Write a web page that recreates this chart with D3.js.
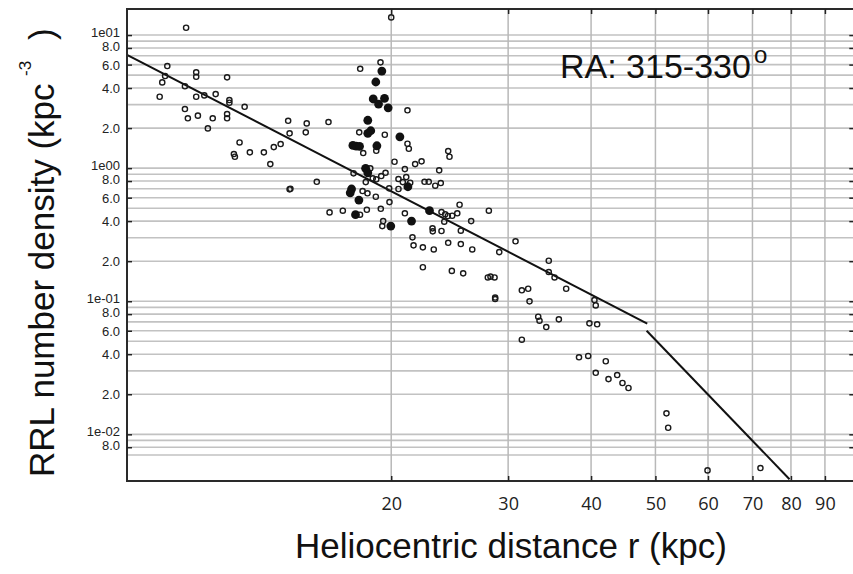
<!DOCTYPE html>
<html>
<head>
<meta charset="utf-8">
<script src="https://cdn.jsdelivr.net/npm/d3@7"></script>
<style>
  body { margin: 0; background: #fff; }
  svg { display: block; }
</style>
</head>
<body>
<svg id="chart" width="853" height="574"></svg>
<script>
// open circles: heliocentric distance (kpc) and number density (kpc^-3)
var openDistance = [
  9.82, 9.20, 9.13, 9.04, 8.96, 9.78, 10.17, 10.17, 11.32, 9.78,
  9.88, 10.17, 10.23, 10.46, 10.88, 10.77, 10.59, 11.41, 11.41, 11.32,
  11.32, 12.03, 11.82, 11.59, 11.63, 12.25, 12.86, 13.15, 13.31, 13.63,
  13.99, 14.06, 14.06, 14.10, 20.0, 19.27, 17.96, 21.16, 14.92, 14.87,
  16.09, 17.90, 19.56, 18.99, 18.15, 21.16, 21.26, 24.37, 24.48, 20.23,
  21.73, 22.22, 20.97, 23.62, 18.60, 17.55, 19.61, 19.32, 18.76, 18.99,
  18.31, 15.45, 21.07, 20.51, 20.82, 21.36, 22.45, 22.78, 23.75, 23.30,
  19.86, 20.51, 18.11, 18.42, 18.96, 19.88, 25.35, 28.06, 16.15, 16.91,
  17.95, 18.38, 19.29, 20.97, 23.81, 24.12, 24.34, 24.71, 25.15, 24.04,
  26.39, 19.45, 19.39, 23.08, 23.10, 23.81, 25.46, 21.53, 21.61, 22.32,
  23.18, 24.37, 25.46, 26.49, 30.78, 29.09, 22.32, 24.68, 25.67, 27.96,
  28.22, 28.62, 28.68, 28.68, 34.54, 34.54, 35.24, 36.69, 31.46, 32.16,
  32.31, 33.30, 33.45, 34.24, 35.77, 31.46, 38.36, 40.47, 40.65, 39.77,
  40.85, 39.60, 42.09, 40.65, 42.49, 43.79, 44.60, 45.54, 51.95, 52.26,
  59.9, 71.97
];
var openDensity = [
  11.35, 5.85, 4.92, 4.41, 3.44, 4.12, 5.25, 4.86, 4.81, 2.78,
  2.37, 3.44, 2.48, 3.52, 3.60, 2.37, 1.99, 3.25, 3.10, 2.55,
  2.37, 2.89, 1.56, 1.276, 1.218, 1.314, 1.314, 1.073, 1.44, 1.517,
  2.27, 1.826, 0.693, 0.700, 13.58, 6.24, 5.58, 2.72, 2.17, 1.858,
  2.22, 1.858, 1.782, 1.351, 1.299, 1.525, 1.399, 1.345, 1.218, 1.117,
  1.073, 1.125, 0.984, 0.963, 0.997, 0.914, 0.923, 0.872, 0.838, 0.824,
  0.786, 0.790, 0.857, 0.828, 0.786, 0.777, 0.790, 0.790, 0.773, 0.738,
  0.705, 0.697, 0.673, 0.647, 0.610, 0.556, 0.531, 0.479, 0.465, 0.479,
  0.447, 0.487, 0.495, 0.458, 0.468, 0.450, 0.437, 0.439, 0.458, 0.396,
  0.400, 0.400, 0.367, 0.353, 0.335, 0.337, 0.339, 0.302, 0.263, 0.254,
  0.245, 0.275, 0.269, 0.245, 0.282, 0.234, 0.180, 0.169, 0.162, 0.151,
  0.153, 0.151, 0.1066, 0.1039, 0.2015, 0.1657, 0.151, 0.1241, 0.1208, 0.1241,
  0.0998, 0.0765, 0.0714, 0.0640, 0.0731, 0.0514, 0.0379, 0.1021, 0.0931, 0.0682,
  0.0671, 0.0388, 0.0354, 0.0290, 0.0260, 0.0279, 0.0243, 0.0223, 0.01438, 0.01121,
  0.00536, 0.00558
];

// filled circles
var filledDistance = [
  19.36, 18.96, 18.79, 19.14, 19.54, 19.79, 18.44, 18.44, 18.63, 20.61,
  17.51, 17.71, 17.92, 19.03, 18.30, 18.44, 21.19, 17.43, 17.35, 17.88,
  17.67, 22.84, 19.97, 21.46
];
var filledDensity = [
  5.36, 4.44, 3.31, 3.03, 3.34, 2.84, 2.29, 1.826, 1.91, 1.721,
  1.483, 1.466, 1.458, 1.473, 0.997, 0.923, 0.725, 0.697, 0.653, 0.576,
  0.447, 0.479, 0.367, 0.400
];

// broken power-law fit: [distance, density] end points
var innerFit = [[8, 7.1], [48.6, 0.068]];
var outerFit = [[48.5, 0.060], [79.6, 0.0046]];

var xTicks = [20, 30, 40, 50, 60, 70, 80, 90];
var yTicks = [10, 8, 6, 4, 2, 1, 0.8, 0.6, 0.4, 0.2, 0.1, 0.08, 0.06, 0.04, 0.02, 0.01, 0.008];
var yTickLabels = ["1e01", "8.0", "6.0", "4.0", "2.0", "1e00", "8.0", "6.0", "4.0", "2.0",
                   "1e-01", "8.0", "6.0", "4.0", "2.0", "1e-02", "8.0"];

var svg = d3.select("#chart");
var plotLeft = 127, plotRight = 855.3, plotTop = 9, plotBottom = 481;

var x = d3.scaleLog().domain([8, 100]).range([plotLeft, plotRight]);
var y = d3.scaleLog().domain([0.00446, 15.7]).range([plotBottom, plotTop]);

// horizontal grid: every 1..9 x decade
var gridY = [];
[0.001, 0.01, 0.1, 1, 10].forEach(function(dec) {
    for (var k = 1; k <= 9; k++) {
        var v = k * dec;
        if (v >= 0.0069 && v <= 10.01) gridY.push(v);
    }
});

svg.append("g").selectAll("line")
    .data(gridY)
    .enter().append("line")
    .attr("x1", plotLeft).attr("x2", plotRight)
    .attr("y1", function(d) { return y(d); })
    .attr("y2", function(d) { return y(d); })
    .attr("stroke", "#c2c2c2")
    .attr("stroke-width", 1.6);

svg.append("g").selectAll("line")
    .data(xTicks)
    .enter().append("line")
    .attr("x1", function(d) { return x(d); })
    .attr("x2", function(d) { return x(d); })
    .attr("y1", plotTop).attr("y2", plotBottom)
    .attr("stroke", "#b8b8b8")
    .attr("stroke-width", 1.5);

// fit lines
var line = d3.line()
    .x(function(d) { return x(d[0]); })
    .y(function(d) { return y(d[1]); });

[innerFit, outerFit].forEach(function(seg) {
    svg.append("path")
        .attr("d", line(seg))
        .attr("fill", "none")
        .attr("stroke", "#111")
        .attr("stroke-width", 2);
});

// points
svg.append("g").selectAll("circle")
    .data(d3.range(openDistance.length))
    .enter().append("circle")
    .attr("cx", function(i) { return x(openDistance[i]); })
    .attr("cy", function(i) { return y(openDensity[i]); })
    .attr("r", 2.6)
    .attr("fill", "none")
    .attr("stroke", "#1a1a1a")
    .attr("stroke-width", 1.4);

svg.append("g").selectAll("circle")
    .data(d3.range(filledDistance.length))
    .enter().append("circle")
    .attr("cx", function(i) { return x(filledDistance[i]); })
    .attr("cy", function(i) { return y(filledDensity[i]); })
    .attr("r", 4.4)
    .attr("fill", "#111");

// frame
svg.append("rect")
    .attr("x", plotLeft).attr("y", plotTop)
    .attr("width", plotRight - plotLeft).attr("height", plotBottom - plotTop)
    .attr("fill", "none")
    .attr("stroke", "#2a2a2a")
    .attr("stroke-width", 2);

// axes
var xAxis = svg.append("g")
    .attr("transform", "translate(0," + plotBottom + ")")
    .call(d3.axisBottom(x).tickValues(xTicks).tickFormat(d3.format("d"))
        .tickSize(-5).tickPadding(16));
xAxis.select(".domain").remove();
xAxis.selectAll("line").attr("stroke", "#222").attr("stroke-width", 1.5);
xAxis.selectAll("text")
    .attr("font-family", "'Open Sans', sans-serif")
    .attr("font-size", 18)
    .attr("fill", "#222");

var topAxis = svg.append("g")
    .attr("transform", "translate(0," + plotTop + ")")
    .call(d3.axisTop(x).tickValues(xTicks).tickFormat("").tickSize(-5));
topAxis.select(".domain").remove();
topAxis.selectAll("line").attr("stroke", "#222").attr("stroke-width", 1.5);

var yAxis = svg.append("g")
    .attr("transform", "translate(" + plotLeft + ",0)")
    .call(d3.axisLeft(y).tickValues(yTicks)
        .tickFormat(function(d, i) { return yTickLabels[i]; })
        .tickSize(-5).tickPadding(7));
yAxis.select(".domain").remove();
yAxis.selectAll("line").attr("stroke", "#222").attr("stroke-width", 1.5);
yAxis.selectAll("text")
    .attr("font-family", "'Liberation Sans', Arial, sans-serif")
    .attr("font-size", 13)
    .attr("fill", "#222")
    .attr("dy", function(d, i) {
        var lab = yTickLabels[i];
        if (lab === "8.0") return "0.2em";
        if (lab.indexOf("e") > 0) return "0.12em";
        return "0.35em";
    });

var rightAxis = svg.append("g")
    .attr("transform", "translate(" + plotRight + ",0)")
    .call(d3.axisRight(y).tickValues(yTicks).tickFormat("").tickSize(-6));
rightAxis.select(".domain").remove();
rightAxis.selectAll("line").attr("stroke", "#222").attr("stroke-width", 1.5);

// titles
svg.append("text")
    .attr("x", 295).attr("y", 558)
    .attr("font-family", "'Liberation Sans', Arial, sans-serif")
    .attr("font-size", 35)
    .attr("fill", "#111")
    .text("Heliocentric distance r (kpc)");

var yTitle = svg.append("g")
    .attr("transform", "translate(54,477) rotate(-90)")
    .attr("font-family", "'Liberation Sans', Arial, sans-serif")
    .attr("fill", "#111");
yTitle.append("text")
    .attr("x", 0).attr("y", 0)
    .attr("font-size", 35)
    .text("RRL number density (kpc");
yTitle.append("text")
    .attr("x", 401).attr("y", -23)
    .attr("font-size", 17)
    .text("-3");
yTitle.append("text")
    .attr("x", 437).attr("y", 0)
    .attr("font-size", 35)
    .text(")");

var label = svg.append("g")
    .attr("font-family", "'Liberation Sans', Arial, sans-serif")
    .attr("fill", "#111");
label.append("text")
    .attr("x", 560).attr("y", 78)
    .attr("font-size", 34)
    .text("RA: 315-330");
label.append("text")
    .attr("x", 754).attr("y", 63)
    .attr("font-size", 24)
    .text("o");
</script>
</body>
</html>
